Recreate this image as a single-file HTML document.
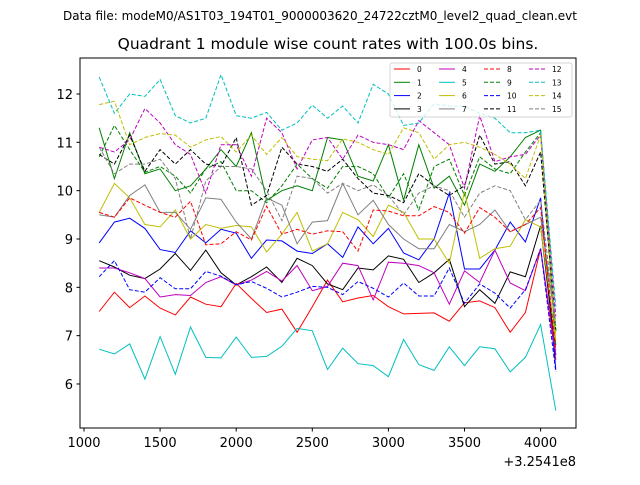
<!DOCTYPE html>
<html><head><meta charset="utf-8"><style>
body{margin:0;background:#fff;font-family:"Liberation Sans","DejaVu Sans",sans-serif}
svg text{font-family:"DejaVu Sans","Liberation Sans",sans-serif}
</style></head><body>
<svg id="c" width="640" height="480" xmlns="http://www.w3.org/2000/svg">
<rect width="640" height="480" fill="#fff"/>
<text x="320" y="20" font-size="12" text-anchor="middle">Data file: modeM0/AS1T03_194T01_9000003620_24722cztM0_level2_quad_clean.evt</text>
<text x="328" y="49" font-size="15.5" text-anchor="middle">Quadrant 1 module wise count rates with 100.0s bins.</text>
<g id="plot"></g>
<rect x="80" y="58" width="496" height="370" fill="none" stroke="#000" stroke-width="1"/>
<g id="axes"></g>
<text x="576" y="466" font-size="13" text-anchor="end">+3.2541e8</text>
<g id="legend"></g>
</svg>
<script>
const xTicks=[1000,1500,2000,2500,3000,3500,4000];
const yTicks=[6,7,8,9,10,11,12];
const times=[1100,1200,1300,1400,1500,1600,1700,1800,1900,2000,2100,2200,2300,2400,2500,2600,2700,2800,2900,3000,3100,3200,3300,3400,3500,3600,3700,3800,3900,4000,4100];
const s0=[7.5,7.9,7.58,7.82,7.57,7.43,7.8,7.65,7.6,8.08,7.77,7.48,7.55,7.07,7.6,8.15,7.7,7.78,7.83,7.6,7.45,7.46,7.47,7.3,7.68,7.72,7.58,7.07,7.48,8.8,6.5];
const s1=[11.3,10.25,11.2,10.35,10.45,10.0,10.1,10.45,10.85,10.5,11.2,9.8,10.0,10.1,10.0,11.1,11.05,10.3,10.2,10.95,9.8,10.95,10.05,10.3,9.7,10.55,10.4,10.7,11.1,11.25,6.8];
const s2=[8.92,9.35,9.43,9.22,8.78,8.72,9.17,8.92,9.2,9.12,8.6,8.98,8.96,8.75,8.7,8.9,8.62,9.25,8.9,9.22,8.71,8.57,9.0,9.95,8.38,8.38,8.77,9.35,8.94,9.85,6.3];
const s3=[8.55,8.42,8.25,8.18,8.38,8.7,8.35,8.77,8.3,8.05,8.22,8.42,8.1,8.6,8.45,8.07,7.95,8.4,8.36,8.65,8.58,8.1,8.3,8.58,7.6,7.95,7.67,8.32,8.22,9.27,6.6];
const s4=[8.4,8.4,8.3,8.18,7.8,7.85,7.83,8.1,8.22,8.05,8.15,8.33,8.13,8.45,7.93,8.02,8.5,8.45,7.74,8.52,8.5,8.45,8.3,7.65,8.34,8.1,8.77,8.09,7.93,8.8,6.6];
const s5=[6.72,6.62,6.83,6.1,6.98,6.2,7.18,6.55,6.54,6.97,6.55,6.57,6.78,7.15,7.1,6.3,6.74,6.42,6.38,6.15,6.92,6.4,6.28,6.77,6.38,6.77,6.73,6.25,6.55,7.23,5.45];
const s6=[9.55,10.15,9.85,9.3,9.25,9.6,9.0,9.3,9.22,9.28,9.25,8.73,9.1,9.55,8.75,8.9,9.55,9.4,9.05,9.7,9.55,9.0,9.0,8.5,9.98,8.6,8.8,8.85,9.4,9.25,6.9];
const s7=[9.5,9.45,9.9,10.12,9.55,9.55,9.2,9.85,9.82,9.35,9.0,9.85,9.7,8.9,9.35,9.38,10.15,9.5,9.8,9.3,9.0,8.8,8.8,9.3,9.15,9.3,9.6,9.15,9.3,9.45,7.2];
const s8=[9.55,9.45,9.85,9.7,9.55,9.45,9.78,8.88,8.9,9.15,8.98,9.68,9.1,9.2,9.1,9.17,9.15,8.75,9.6,9.58,9.48,9.48,9.67,9.55,9.12,9.65,9.45,9.15,9.3,9.65,6.7];
const s9=[10.7,11.35,10.85,10.38,10.5,10.3,9.95,10.45,10.6,10.0,10.0,9.75,10.1,10.55,10.25,10.05,10.5,10.5,10.35,9.85,10.35,9.6,10.5,10.65,9.9,10.7,10.45,10.35,10.8,11.2,7.1];
const s10=[8.22,8.55,7.95,7.9,8.2,7.97,7.97,8.33,8.23,8.05,8.12,7.98,7.8,7.9,8.02,8.0,7.85,8.12,7.98,7.8,8.09,7.82,7.82,8.4,7.67,8.07,7.88,7.57,7.95,8.8,6.25];
const s11=[10.75,10.55,11.15,10.4,10.85,10.55,10.85,10.55,10.5,11.1,9.7,9.9,10.9,10.55,10.5,10.4,10.65,10.25,9.95,9.9,9.75,10.35,10.1,9.9,10.1,11.15,10.55,10.6,10.1,10.8,7.1];
const s12=[10.9,10.8,11.05,11.7,11.4,10.95,10.75,9.95,10.95,10.95,10.3,11.5,11.2,10.45,11.05,11.1,10.65,11.15,11.0,10.95,10.85,11.45,11.2,10.95,10.05,11.55,10.6,10.7,10.75,11.15,7.4];
const s13=[12.35,11.6,12.0,11.95,12.3,11.55,11.4,11.5,12.4,11.55,11.5,11.62,11.25,11.4,11.77,11.5,11.75,11.4,12.2,12.0,11.35,11.4,11.8,11.75,11.75,11.6,11.5,11.2,11.2,11.25,7.6];
const s14=[11.78,11.85,10.95,11.1,11.18,11.15,10.9,11.05,11.12,10.8,11.15,10.75,11.1,10.7,10.65,10.62,11.07,11.0,10.85,10.75,11.3,11.2,10.65,10.95,11.0,10.9,10.75,10.55,10.25,11.15,7.0];
const s15=[10.9,10.35,10.55,10.55,10.65,10.25,9.0,10.2,10.5,10.5,10.45,10.0,9.38,10.3,10.25,9.95,10.15,10.0,10.12,9.9,9.5,9.95,10.1,10.0,9.45,9.95,10.1,10.0,9.4,9.8,7.2];
const series=[s0,s1,s2,s3,s4,s5,s6,s7,s8,s9,s10,s11,s12,s13,s14,s15];
const colors=['#ff0000','#008000','#0000ff','#000000','#bf00bf','#00bfbf','#bfbf00','#808080'];
const NS='http://www.w3.org/2000/svg';
const X=v=>84+(v-1000)*0.1522;
const Y=v=>94+(12-v)*48.33;
function mk(tag,attrs,parent){const e=document.createElementNS(NS,tag);for(const k in attrs)e.setAttribute(k,attrs[k]);parent.appendChild(e);return e;}
const plot=document.getElementById('plot');
series.forEach((s,i)=>{
  const pts=s.map((v,j)=>X(times[j]).toFixed(1)+','+Y(v).toFixed(1)).join(' ');
  const pl=mk('polyline',{points:pts,fill:'none',stroke:colors[i%8],'stroke-width':1,'stroke-dasharray':i>=8?'4,2':'none'},plot);
  
  
});
const axes=document.getElementById('axes');
xTicks.forEach(t=>{
  const x=X(t);
  const l=mk('line',{x1:x,x2:x,y1:428,y2:431.5,stroke:'#000'},axes);
  
  
  const tx=mk('text',{x:x,y:447,'font-size':13,'text-anchor':'middle'},axes);tx.textContent=t;
  
  
});
yTicks.forEach(t=>{
  const y=Y(t);
  const l=mk('line',{x1:76.5,x2:80,y1:y,y2:y,stroke:'#000'},axes);
  
  
  const tx=mk('text',{x:73,y:y+5,'font-size':13,'text-anchor':'end'},axes);tx.textContent=t;
  
  
});
const lg=document.getElementById('legend');
const box=mk('rect',{x:390,y:63,width:182,height:54,fill:'#fff',stroke:'#ccc',rx:2,opacity:0.8},lg);


for(let i=0;i<16;i++){
  const c=Math.floor(i/4),r=i%4;
  const x=394+c*45,y=69+r*13.3;
  const l=mk('line',{x1:x,x2:x+16,y1:y,y2:y,stroke:colors[i%8],'stroke-width':1,'stroke-dasharray':i>=8?'4,2':'none'},lg);
  
  
  const t=mk('text',{x:x+23,y:y+3,'font-size':7.5},lg);t.textContent=i;
  
  
}
</script>
</body></html>
